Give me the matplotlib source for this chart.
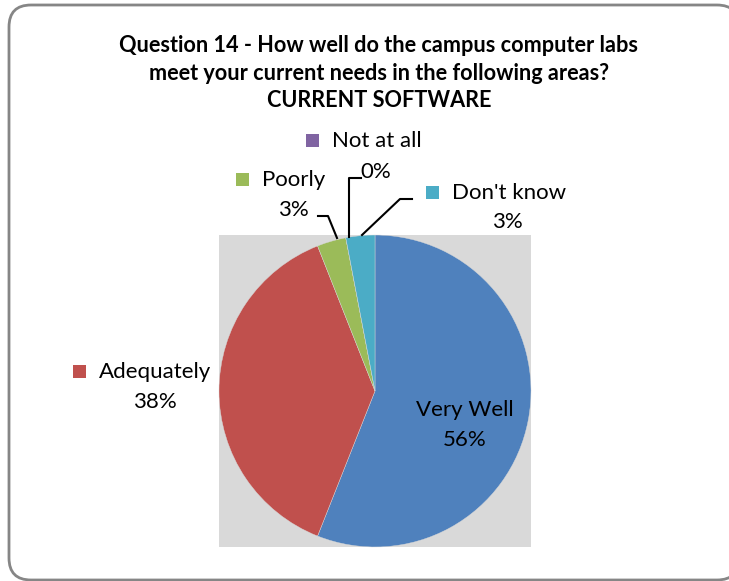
import matplotlib.pyplot as plt
from matplotlib.patches import FancyBboxPatch, Rectangle

plt.rcParams['font.family'] = ['Lato', 'DejaVu Sans']

# data
categories = ['Very Well', 'Adequately', 'Poorly', 'Not at all', "Don't know"]
values = [56, 38, 3, 0, 3]
colors = ['#4F81BD', '#C0504D', '#9BBB59', '#8064A2', '#4BACC6']
title = ('Question 14 - How well do the campus computer labs\n'
         'meet your current needs in the following areas?\n'
         'CURRENT SOFTWARE')

W, H = 729, 581
fig = plt.figure(figsize=(W / 100, H / 100), dpi=100)

def pixel_axes():
    a = fig.add_axes([0, 0, 1, 1])
    a.set_xlim(0, W)
    a.set_ylim(H, 0)
    a.axis('off')
    return a

# background: rounded chart border
bg = pixel_axes()
bg.add_patch(FancyBboxPatch((9, 5), 730, 575, boxstyle='round,pad=0,rounding_size=22',
                            fc='white', ec='#868686', lw=2))

# pie area
px0, py0, size = 219, 235, 312
ax = fig.add_axes([px0 / W, 1 - (py0 + size) / H, size / W, size / H])
ax.set_facecolor('#D9D9D9')
ax.pie(values, colors=colors, startangle=90, counterclock=False, radius=1,
       wedgeprops=dict(linewidth=0.3, edgecolor='#D9D9D9'))
ax.set_xlim(-1.0, 1.0)
ax.set_ylim(-1.0, 1.0)
ax.set_aspect('equal')
ax.set_xticks([])
ax.set_yticks([])
ax.set_frame_on(True)
for s in ax.spines.values():
    s.set_visible(False)

# overlay for title, labels and leader lines
top = pixel_axes()
top.text(379, 73, title, ha='center', va='center', fontsize=15.6, fontweight='bold',
         linespacing=1.38)

fs = 16
# label layout: (square x, name x, name y, pct x, pct y)
layout = {
    'Very Well': (None, 465, 410, 465, 440),
    'Adequately': (73, 155, 372, 155, 402),
    'Poorly': (236, 294, 180, 293, 210),
    'Not at all': (306, 376, 141, 376, 172),
    "Don't know": (426, 506, 193, 507, 222),
}
for cat, val, col in zip(categories, values, colors):
    sq, nx, ny, qx, qy = layout[cat]
    if sq is None:
        top.text(nx, ny, cat, ha='center', va='center', fontsize=fs)
    else:
        top.add_patch(Rectangle((sq, ny - 7), 13, 13, fc=col, ec='none'))
        top.text(sq + 26, ny, cat, ha='left', va='center', fontsize=fs)
    top.text(qx, qy, f'{val}%', ha='center', va='center', fontsize=fs)

# leader lines
top.plot([361, 349, 349], [178, 178, 237], color='black', lw=1.5)
top.plot([318, 328, 337], [216, 216, 238], color='black', lw=1.5)
top.plot([412, 400, 362], [199, 199, 235], color='black', lw=1.5)

fig.savefig('out.png', dpi=100)
